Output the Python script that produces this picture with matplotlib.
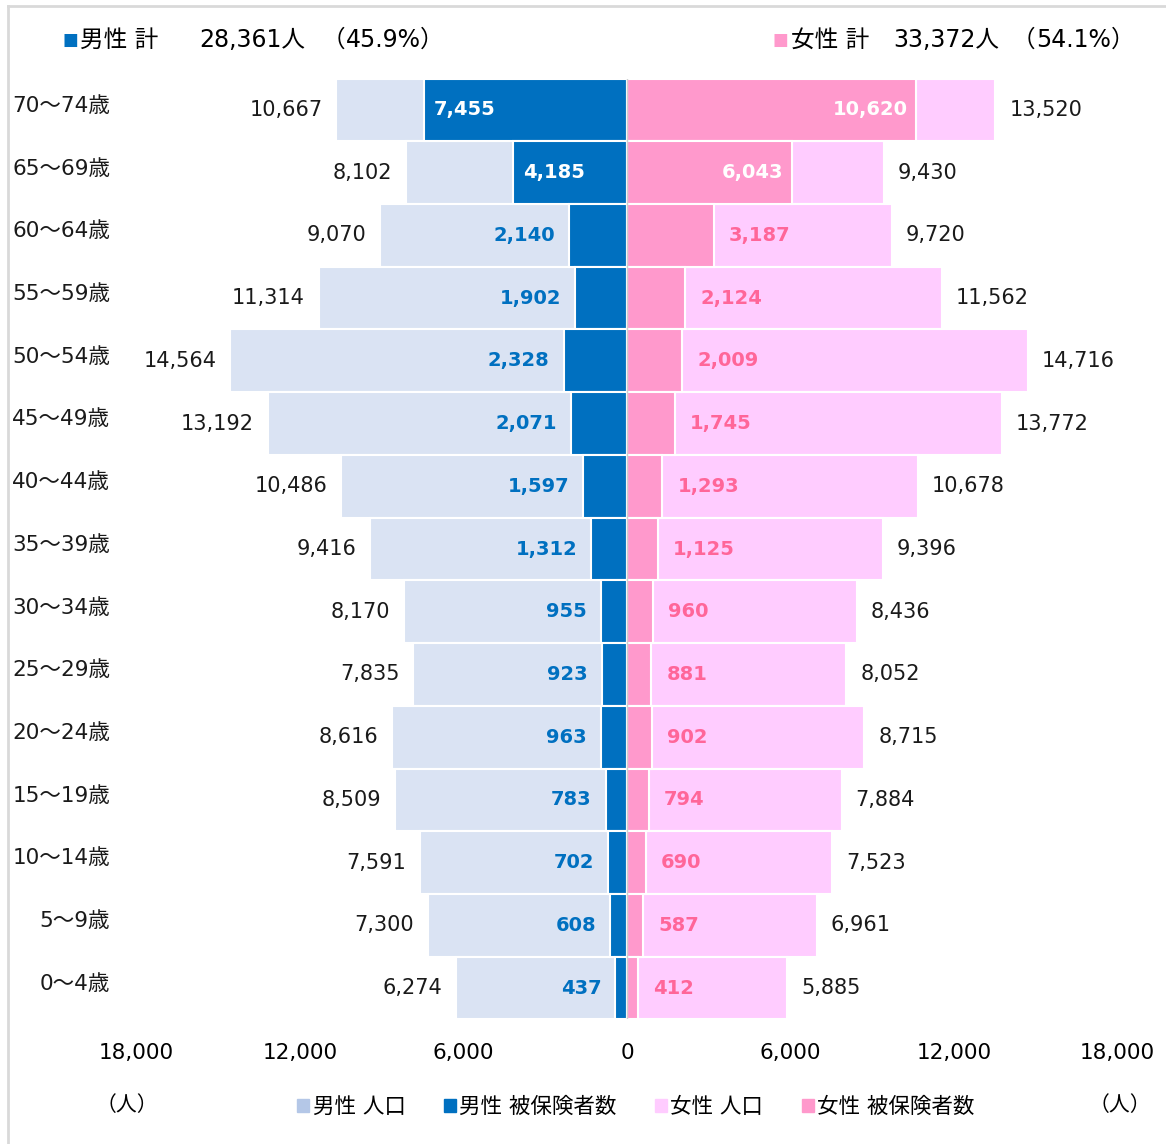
import matplotlib
matplotlib.use("Agg")
import matplotlib.pyplot as plt
from matplotlib.patches import Patch
from matplotlib.lines import Line2D

plt.rcParams['font.family'] = ['DejaVu Sans', 'Noto Sans CJK JP']
CJK = ['Noto Sans CJK JP', 'DejaVu Sans']

# Data (top row first)
ages = ['70～74歳', '65～69歳', '60～64歳', '55～59歳', '50～54歳', '45～49歳', '40～44歳',
        '35～39歳', '30～34歳', '25～29歳', '20～24歳', '15～19歳', '10～14歳', '5～9歳', '0～4歳']
male_pop = [10667, 8102, 9070, 11314, 14564, 13192, 10486, 9416, 8170, 7835, 8616, 8509, 7591, 7300, 6274]
male_ins = [7455, 4185, 2140, 1902, 2328, 2071, 1597, 1312, 955, 923, 963, 783, 702, 608, 437]
female_pop = [13520, 9430, 9720, 11562, 14716, 13772, 10678, 9396, 8436, 8052, 8715, 7884, 7523, 6961, 5885]
female_ins = [10620, 6043, 3187, 2124, 2009, 1745, 1293, 1125, 960, 881, 902, 794, 690, 587, 412]
ticks = [-18000, -12000, -6000, 0, 6000, 12000, 18000]
male_total = '28,361人'
male_share = '45.9%'
female_total = '33,372人'
female_share = '54.1%'

C_MPOP = '#DAE3F3'
C_MINS = '#0070C0'
C_FPOP = '#FFCCFF'
C_FINS = '#FF99CC'
C_FTXT = '#FF6699'

W, H = 1166, 1144
fig = plt.figure(figsize=(W / 100, H / 100), dpi=100)


def fx(px):
    return px / W


def fy(py):
    return 1 - py / H


ax = fig.add_axes([fx(136.5), fy(1019.4), fx(981), 940.8 / H])
y = list(range(len(ages)))[::-1]

ax.barh(y, [-v for v in male_pop], height=1.0, color=C_MPOP, edgecolor='white', linewidth=1.5, zorder=1)
ax.barh(y, [-v for v in male_ins], height=1.0, color=C_MINS, edgecolor='white', linewidth=1.5, zorder=2)
ax.barh(y, female_pop, height=1.0, color=C_FPOP, edgecolor='white', linewidth=1.5, zorder=1)
ax.barh(y, female_ins, height=1.0, color=C_FINS, edgecolor='white', linewidth=1.5, zorder=2)
ax.axvline(0, color='#D0D0D0', linewidth=1, zorder=3)

ax.set_xlim(-18000, 18000)
ax.set_ylim(-0.5, len(ages) - 0.5)
ax.set_xticks(ticks)
ax.set_xticklabels([f'{abs(t):,}' for t in ticks], fontsize=15.5)
ax.tick_params(axis='x', length=0, pad=17)
ax.set_yticks([])
for s in ax.spines.values():
    s.set_visible(False)

fs = 15
bfs = 14
for yi, mp, mi, fp, fi in zip(y, male_pop, male_ins, female_pop, female_ins):
    ax.annotate(f'{mp:,}', (-mp, yi), xytext=(-10, 0), textcoords='offset points',
                ha='right', va='center', fontsize=fs, color='#1a1a1a')
    ax.annotate(f'{fp:,}', (fp, yi), xytext=(10, 0), textcoords='offset points',
                ha='left', va='center', fontsize=fs, color='#1a1a1a')
    if mi > 4000:
        ax.annotate(f'{mi:,}', (-mi, yi), xytext=(7, 0), textcoords='offset points',
                    ha='left', va='center', fontsize=bfs, color='white', fontweight='bold')
    else:
        ax.annotate(f'{mi:,}', (-mi, yi), xytext=(-10, 0), textcoords='offset points',
                    ha='right', va='center', fontsize=bfs, color=C_MINS, fontweight='bold')
    if fi > 4000:
        ax.annotate(f'{fi:,}', (fi, yi), xytext=(-6, 0), textcoords='offset points',
                    ha='right', va='center', fontsize=bfs, color='white', fontweight='bold')
    else:
        ax.annotate(f'{fi:,}', (fi, yi), xytext=(11, 0), textcoords='offset points',
                    ha='left', va='center', fontsize=bfs, color=C_FTXT, fontweight='bold')

# age labels
for yi, a in zip(y, ages):
    ax.annotate(a, (0, yi), xycoords=('figure fraction', 'data'), xytext=(fx(110), 3),
                textcoords=('figure fraction', 'offset points'),
                ha='right', va='center', fontsize=15.5, color='#1a1a1a')

# header totals
hs = 17
fig.text(fx(62), fy(40), '■', color=C_MINS, fontsize=12, va='center', ha='left')
fig.text(fx(80), fy(40), '男性 計', fontsize=hs, va='center', ha='left')
fig.text(fx(199), fy(40), male_total, fontsize=hs, va='center', ha='left')
fig.text(fx(322), fy(40), '（', fontsize=hs, va='center', ha='left', family=CJK)
fig.text(fx(346), fy(40), male_share, fontsize=hs, va='center', ha='left')
fig.text(fx(420), fy(40), '）', fontsize=hs, va='center', ha='left', family=CJK)
fig.text(fx(773), fy(40), '■', color=C_FINS, fontsize=12, va='center', ha='left')
fig.text(fx(791), fy(40), '女性 計', fontsize=hs, va='center', ha='left')
fig.text(fx(893), fy(40), female_total, fontsize=hs, va='center', ha='left')
fig.text(fx(1012), fy(40), '（', fontsize=hs, va='center', ha='left', family=CJK)
fig.text(fx(1036), fy(40), female_share, fontsize=hs, va='center', ha='left')
fig.text(fx(1111), fy(40), '）', fontsize=hs, va='center', ha='left', family=CJK)

# unit labels
fig.text(fx(127), fy(1105), '（人）', fontsize=15, va='center', ha='center', family=CJK)
fig.text(fx(1120), fy(1105), '（人）', fontsize=15, va='center', ha='center', family=CJK)

# legend
handles = [Patch(color='#B4C7E7'), Patch(color=C_MINS), Patch(color=C_FPOP), Patch(color=C_FINS)]
labels = ['男性 人口', '男性 被保険者数', '女性 人口', '女性 被保険者数']
fig.legend(handles, labels, loc='center', bbox_to_anchor=(fx(636), fy(1107)), ncol=4,
           frameon=False, fontsize=15.5, handlelength=0.55, handleheight=0.55,
           handletextpad=0.15, columnspacing=1.8)

# outer frame
fig.add_artist(Line2D([fx(8), 1.0], [fy(6), fy(6)], color='#D9D9D9', linewidth=2))
fig.add_artist(Line2D([fx(8), fx(8)], [fy(6), 0.0], color='#D9D9D9', linewidth=2))

fig.savefig('out.png', dpi=100)
